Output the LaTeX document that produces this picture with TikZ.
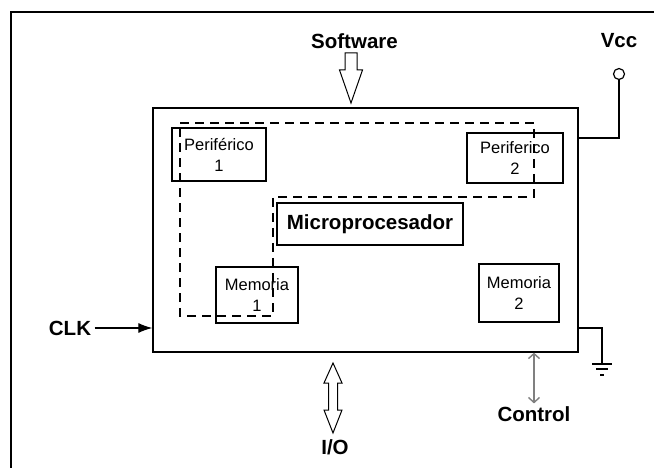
\documentclass[tikz,border=0pt]{standalone}
\usepackage{fontspec}
\setmainfont{Liberation Sans}
\usetikzlibrary{arrows.meta}
\begin{document}
\begin{tikzpicture}[x=1pt,y=-1pt,
	caja/.style={draw, line width=1.3pt, inner sep=0pt, align=center, font=\fontsize{16.5}{21}\selectfont},
	etiq/.style={font=\bfseries\fontsize{20.5}{24}\selectfont},
	hueca/.style={draw, line width=1pt, fill=white}]
				\useasboundingbox (0,0) rectangle (654,468);
				\draw[line width=2.2pt] (11,468) -- (11,12) -- (654,12);
				\node[caja, minimum width=425, minimum height=244] (cpu) at (365.5,230) {};
				\node[caja, minimum width=94, minimum height=53] (per1) at (219,154.5) {Periférico\\1};
				\node[caja, minimum width=96, minimum height=50] (per2) at (515,158) {Periferico\\2};
				\node[caja, minimum width=186, minimum height=42, font=\bfseries\fontsize{20.5}{24}\selectfont] (micro) at (370,224) {Microprocesador};
				\node[caja, minimum width=82, minimum height=56] (mem1) at (257,295) {Memoria\\1};
				\node[caja, minimum width=80, minimum height=58] (mem2) at (519,293) {Memoria\\2};
				\coordinate (D1) at (180,123);
				\coordinate (D2) at (534,123);
				\coordinate (D3) at (534,197);
				\coordinate (D4) at (273,197);
				\coordinate (D5) at (273,316);
				\coordinate (D6) at (180,316);
				\draw[line width=1.3pt, dash pattern=on 9pt off 6pt] (D1) -- (D2) -- (D3) -- (D4) -- (D5) -- (D6) -- cycle;
				\node[etiq] (software) at (354.5,41) {Software};
				\coordinate (swtip) at (351,103);
				\draw[hueca] (swtip) -- ++(-11.5,-33) -- ++(5.5,0) -- ++(0,-17) -- ++(12,0) -- ++(0,17) -- ++(5.5,0) -- cycle;
				\node[etiq] (vcc) at (619,41) {Vcc};
				\node[circle, draw, line width=1.2pt, minimum size=11, inner sep=0pt] (vccpin) at (619,74) {};
				\coordinate (vccin) at (578,138);
				\draw[line width=1.3pt] (vccpin.south) |- (vccin);
				\node[etiq] (clk) at (70,328) {CLK};
				\draw[line width=1.2pt, -{Latex[length=14pt,width=10pt]}] (clk.east) -- (clk.east -| cpu.west);
				\coordinate (iotop) at (333,363);
				\draw[hueca] (iotop) -- ++(9,20) -- ++(-4.5,0) -- ++(0,27) -- ++(4.5,0) -- ++(-9,23) -- ++(-9,-23) -- ++(4.5,0) -- ++(0,-27) -- ++(-4.5,0) -- cycle;
				\node[etiq] (io) at (335,447) {I/O};
				\node[etiq] (control) at (534,414.5) {Control};
				\draw[gray, line width=1.4pt, {Straight Barb[length=5pt,width=11pt]}-{Straight Barb[length=5pt,width=11pt]}] (control.north |- cpu.south) -- (control.north);
				\coordinate (gndout) at (578,328);
				\coordinate (gnd) at (602,364);
				\draw[line width=1.3pt] (gndout) -| (gnd);
				\draw[line width=1.3pt] (gnd) ++(-10,0) -- ++(20,0);
				\draw[line width=1.3pt] (gnd) ++(-6,5) -- ++(12,0);
				\draw[line width=1.3pt] (gnd) ++(-2,11) -- ++(4,0);
			\end{tikzpicture}
\end{document}
